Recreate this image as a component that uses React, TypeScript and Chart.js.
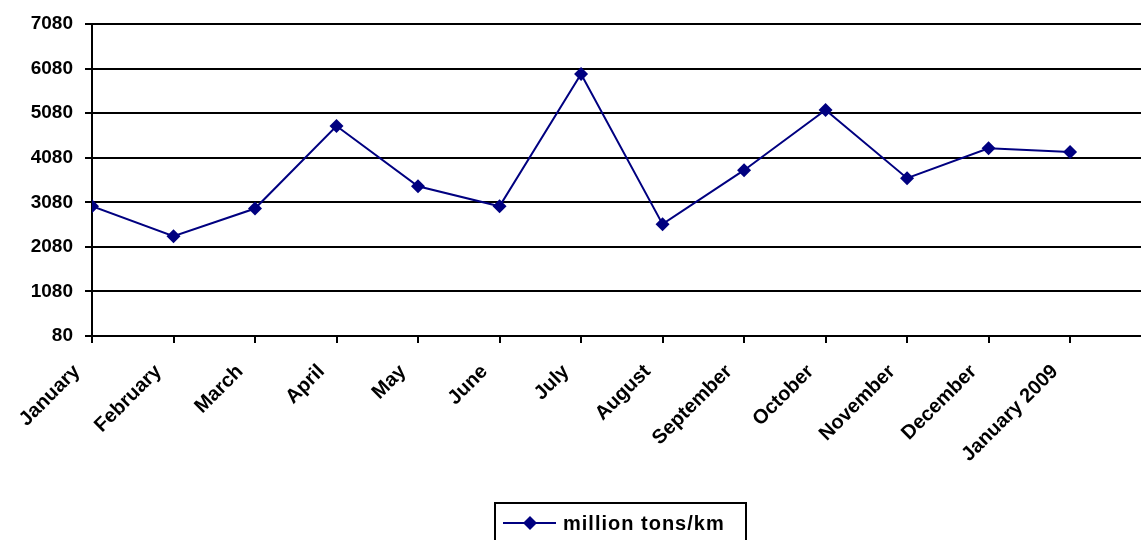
import React, { useEffect, useRef } from 'react';
import { Chart, registerables } from 'chart.js';

Chart.register(...registerables);

const categories = ['January', 'February', 'March', 'April', 'May', 'June', 'July', 'August', 'September', 'October', 'November', 'December', 'January 2009'];
const values = [2990, 2320, 2940, 4790, 3440, 2990, 5960, 2590, 3800, 5150, 3620, 4290, 4210];
const seriesName = 'million tons/km';
const yTicks = [80, 1080, 2080, 3080, 4080, 5080, 6080, 7080];
const yMin = 80;
const yMax = 7080;
const xMax = 12.87;

const FONT = "'Liberation Sans', Arial, sans-serif";
const NAVY = '#000080';

export default function App() {
  const ref = useRef<HTMLCanvasElement>(null);

  useEffect(() => {
    document.body.style.margin = '0';
    const legendPlugin = {
      id: 'boxLegend',
      afterDraw(chart: any) {
        const ctx = chart.ctx as any;
        ctx.save();
        ctx.strokeStyle = '#000';
        ctx.lineWidth = 2;
        ctx.strokeRect(495, 503, 251, 45);
        ctx.strokeStyle = NAVY;
        ctx.lineWidth = 2;
        ctx.beginPath();
        ctx.moveTo(503, 523);
        ctx.lineTo(556, 523);
        ctx.stroke();
        ctx.fillStyle = NAVY;
        ctx.beginPath();
        const cx = 530, cy = 523, r = 7;
        ctx.moveTo(cx, cy - r);
        ctx.lineTo(cx + r, cy);
        ctx.lineTo(cx, cy + r);
        ctx.lineTo(cx - r, cy);
        ctx.closePath();
        ctx.fill();
        ctx.fillStyle = '#000';
        ctx.font = `bold 20px ${FONT}`;
        ctx.letterSpacing = '1px';
        ctx.textBaseline = 'middle';
        ctx.textAlign = 'left';
        ctx.fillText(seriesName, 563, 524);
        ctx.restore();
      },
    };

    const chart = new Chart(ref.current as HTMLCanvasElement, {
      type: 'line',
      data: {
        datasets: [
          {
            label: seriesName,
            data: values.map((v, i) => ({ x: i, y: v })),
            borderColor: NAVY,
            backgroundColor: NAVY,
            borderWidth: 2,
            pointStyle: 'rectRot',
            pointRadius: 7,
            pointBorderWidth: 0,
            pointBackgroundColor: NAVY,
            tension: 0,
          },
        ],
      },
      options: {
        animation: false,
        responsive: false,
        layout: { autoPadding: false, padding: { top: 24, right: 0, left: 0, bottom: 0 } },
        plugins: { legend: { display: false }, tooltip: { enabled: false } },
        scales: {
          x: {
            type: 'linear',
            min: 0,
            max: xMax,
            afterBuildTicks: (s: any) => {
              s.ticks = categories.map((_, i) => ({ value: i }));
            },
            afterFit: (s: any) => {
              s.height = 204;
            },
            ticks: {
              autoSkip: false,
              minRotation: 45,
              maxRotation: 45,
              padding: 17,
              labelOffset: -15,
              color: '#000',
              font: { family: FONT, size: 20, weight: 'bold' },
              callback: (v: any) => categories[v] ?? '',
            },
            grid: { drawOnChartArea: false, drawTicks: true, tickLength: 7, color: '#000', lineWidth: 2 },
            border: { display: true, color: '#000', width: 2 },
          },
          y: {
            min: yMin,
            max: yMax,
            afterBuildTicks: (s: any) => {
              s.ticks = yTicks.map((v) => ({ value: v }));
            },
            afterFit: (s: any) => {
              s.width = 92;
            },
            ticks: {
              padding: 12,
              color: '#000',
              font: { family: FONT, size: 19, weight: 'bold' },
              callback: (v: any) => String(v),
            },
            grid: { color: '#000', lineWidth: 2, tickLength: 7 },
            border: { display: true, color: '#000', width: 2 },
          },
        },
      },
      plugins: [legendPlugin],
    } as any);

    return () => chart.destroy();
  }, []);

  return <canvas ref={ref} width={1141} height={540} style={{ display: 'block' }} />;
}
